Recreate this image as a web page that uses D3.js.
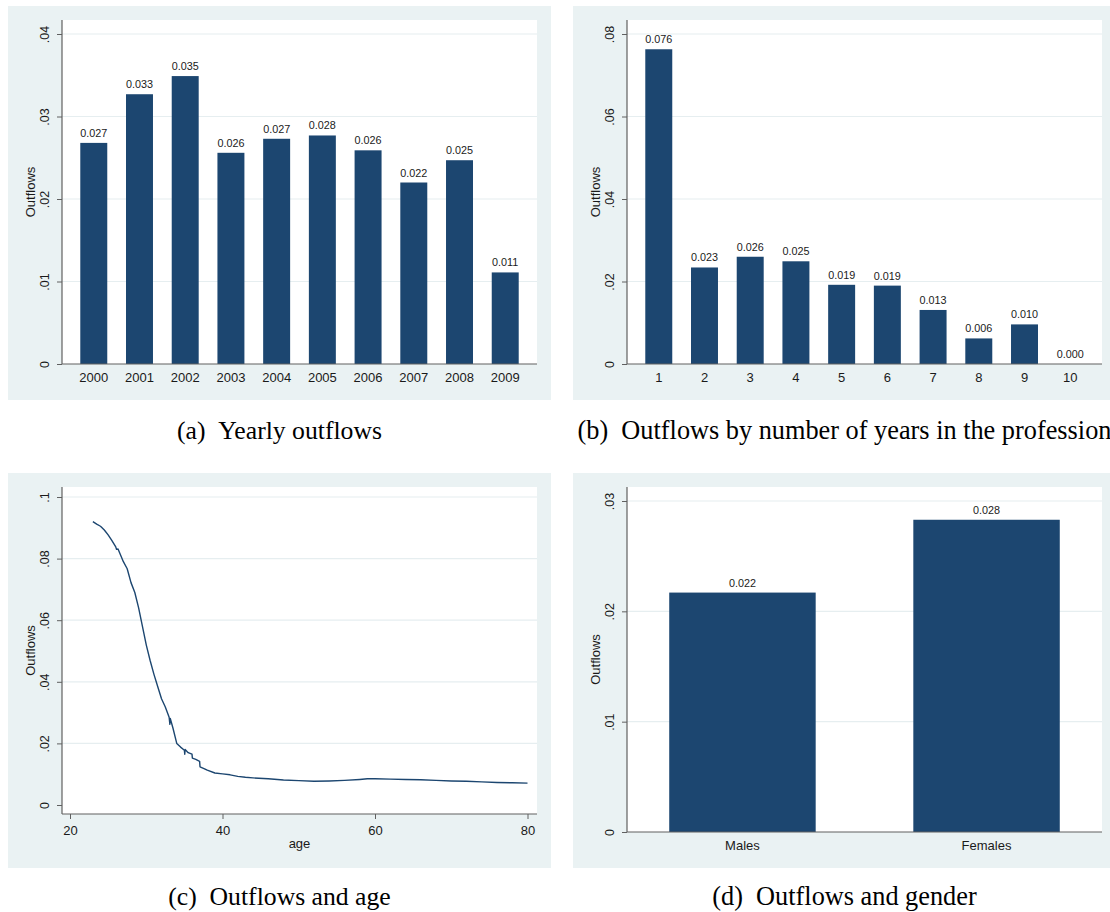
<!DOCTYPE html>
<html>
<head>
<meta charset="utf-8">
<script src="https://cdn.jsdelivr.net/npm/d3@7"></script>
<style>
  html, body { margin: 0; padding: 0; background: #ffffff; }
  svg { display: block; }
  text { font-family: "Liberation Sans", Arial, sans-serif; fill: #1a1a1a; }
  .caption { font-family: "Liberation Serif", "Times New Roman", serif; fill: #000; }
</style>
</head>
<body>
<svg id="fig" width="1110" height="912"></svg>
<script>
// ---- data ----
const yearLabels = ["2000","2001","2002","2003","2004","2005","2006","2007","2008","2009"];
const yearOutflows = [0.0268, 0.0327, 0.0349, 0.0256, 0.0273, 0.0277, 0.0259, 0.0220, 0.0247, 0.0111];

const tenureLabels = ["1","2","3","4","5","6","7","8","9","10"];
const tenureOutflows = [0.0763, 0.0234, 0.0260, 0.0249, 0.0192, 0.0190, 0.0131, 0.0062, 0.0096, 0.0000];

const ageValues = [23, 23.5, 24, 24.5, 25, 25.5, 26, 26.1, 26.3, 27, 27.5, 28, 28.5, 29, 29.5, 30, 30.5,
  31, 31.5, 32, 32.5, 33, 33.1, 33.15, 33.5, 34, 34.5, 35, 35.05, 35.1, 35.5, 36, 36.05, 36.5, 37, 37.05,
  37.5, 38, 39, 40, 41, 42, 43, 44, 46, 48, 50, 52, 54, 56, 58, 59, 60, 62, 64, 66, 68, 70, 72, 74, 76, 78, 80];
const ageOutflows = [0.0920, 0.0912, 0.0905, 0.0893, 0.0877, 0.0858, 0.0838, 0.0830, 0.0831, 0.0790, 0.0767,
  0.0722, 0.0690, 0.0640, 0.0580, 0.0520, 0.0470, 0.0425, 0.0385, 0.0345, 0.0318, 0.0285, 0.0262, 0.0281,
  0.0250, 0.0200, 0.0188, 0.0178, 0.0165, 0.0180, 0.0170, 0.0165, 0.0152, 0.0148, 0.0142, 0.0124, 0.0119,
  0.0113, 0.0104, 0.0101, 0.0098, 0.0093, 0.0090, 0.0088, 0.0085, 0.0081, 0.0079, 0.0077, 0.0078, 0.0080,
  0.0083, 0.0085, 0.0085, 0.0084, 0.0083, 0.0082, 0.0080, 0.0078, 0.0077, 0.0075, 0.0073, 0.0072, 0.0071];
const ageTicks = [20, 40, 60, 80];

const genderLabels = ["Males", "Females"];
const genderOutflows = [0.0217, 0.0283];

const yTicksA = [0, 0.01, 0.02, 0.03, 0.04];
const yTicksB = [0, 0.02, 0.04, 0.06, 0.08];
const yTicksC = [0, 0.02, 0.04, 0.06, 0.08, 0.1];
const yTicksD = [0, 0.01, 0.02, 0.03];

const captions = ["(a)\u2002Yearly outflows", "(b)\u2002Outflows by number of years in the profession",
                  "(c)\u2002Outflows and age", "(d)\u2002Outflows and gender"];

// ---- style ----
const BG = "#eaf2f3", GRID = "#e6eef0", AXIS = "#606060", BAR = "#1c4670";
const svg = d3.select("#fig");
const stataFmt = d => d === 0 ? "0" : d3.format(".2~f")(d).replace(/^0/, "");

function panel(box, plot) {
  svg.append("rect").attr("x", box.x0).attr("y", box.y0)
    .attr("width", box.x1 - box.x0).attr("height", box.y1 - box.y0).attr("fill", BG);
  svg.append("rect").attr("x", plot.x0).attr("y", plot.y0)
    .attr("width", plot.x1 - plot.x0).attr("height", plot.y1 - plot.y0).attr("fill", "#fff");
}

function yAxis(plot, y, ticks) {
  // horizontal grid lines
  svg.append("g").selectAll("line").data(ticks.filter(t => t !== 0)).join("line")
    .attr("x1", plot.x0).attr("x2", plot.x1)
    .attr("y1", d => y(d)).attr("y2", d => y(d))
    .attr("stroke", GRID).attr("stroke-width", 1.2);
  const g = svg.append("g").attr("transform", `translate(${plot.x0},0)`)
    .call(d3.axisLeft(y).tickValues(ticks).tickFormat(stataFmt).tickSize(5).tickSizeOuter(0));
  g.select(".domain").remove();
  g.selectAll(".tick line").attr("stroke", AXIS);
  g.selectAll(".tick text")
    .attr("transform", "rotate(-90)").attr("x", 0).attr("y", -13).attr("dy", 0)
    .attr("text-anchor", "middle").style("font-size", "12.5px").attr("fill", "#1a1a1a");
  // axis line spanning the whole plot region
  svg.append("line").attr("x1", plot.x0).attr("x2", plot.x0)
    .attr("y1", plot.y0).attr("y2", plot.y1).attr("stroke", AXIS).attr("stroke-width", 1.2);
  svg.append("text").attr("transform", `translate(${plot.x0 - 27.5},${(plot.y0 + plot.y1) / 2}) rotate(-90)`)
    .attr("text-anchor", "middle").style("font-size", "13px").text("Outflows");
}

function xBaseline(plot, yPos) {
  svg.append("line").attr("x1", plot.x0).attr("x2", plot.x1)
    .attr("y1", yPos).attr("y2", yPos).attr("stroke", AXIS).attr("stroke-width", 1.2);
}

function barPanel(box, plot, labels, values, yMax, ticks, padIn, padOut, labelSize) {
  panel(box, plot);
  const y = d3.scaleLinear().domain([0, yMax]).range([plot.y1, plot.y1 - (plot.y1 - plot.y0 - 14)]);
  const x = d3.scaleBand().domain(labels).range([plot.x0, plot.x1]).paddingInner(padIn).paddingOuter(padOut);
  yAxis(plot, y, ticks);
  const data = labels.map((l, i) => ({ l, v: values[i] }));
  svg.append("g").selectAll("rect").data(data).join("rect")
    .attr("x", d => x(d.l)).attr("width", x.bandwidth())
    .attr("y", d => y(d.v)).attr("height", d => y(0) - y(d.v))
    .attr("fill", BAR);
  svg.append("g").selectAll("text").data(data).join("text")
    .attr("x", d => x(d.l) + x.bandwidth() / 2).attr("y", d => y(d.v) - 6)
    .attr("text-anchor", "middle").style("font-size", "10.8px")
    .text(d => d3.format(".3f")(d.v));
  xBaseline(plot, y(0));
  const gx = svg.append("g").attr("transform", `translate(0,${y(0)})`)
    .call(d3.axisBottom(x).tickSize(0));
  gx.select(".domain").remove();
  gx.selectAll(".tick text").attr("y", 18).attr("dy", 0).style("font-size", labelSize).attr("fill", "#1a1a1a");
}

// (a) yearly outflows
barPanel({ x0: 8, x1: 551, y0: 6, y1: 400 }, { x0: 62, x1: 537, y0: 20, y1: 364 },
  yearLabels, yearOutflows, 0.04, yTicksA, 0.41, 0.4, "13px");

// (b) outflows by years in the profession
barPanel({ x0: 573, x1: 1116, y0: 6, y1: 400 }, { x0: 627, x1: 1102, y0: 20, y1: 364 },
  tenureLabels, tenureOutflows, 0.08, yTicksB, 0.41, 0.4, "13px");

// (c) outflows and age
{
  const box = { x0: 8, x1: 551, y0: 473, y1: 868 }, plot = { x0: 62, x1: 537, y0: 487, y1: 814 };
  panel(box, plot);
  const y = d3.scaleLinear().domain([0, 0.1]).range([805, 497]);
  const x = d3.scaleLinear().domain([20, 80]).range([70, 527.5]);
  yAxis(plot, y, yTicksC);
  svg.append("line").attr("x1", plot.x0).attr("x2", plot.x1)
    .attr("y1", plot.y1).attr("y2", plot.y1).attr("stroke", AXIS).attr("stroke-width", 1.2);
  const gx = svg.append("g").attr("transform", `translate(0,${plot.y1})`)
    .call(d3.axisBottom(x).tickValues(ageTicks).tickFormat(d3.format("d")).tickSize(5).tickSizeOuter(0));
  gx.select(".domain").remove();
  gx.selectAll(".tick line").attr("stroke", AXIS);
  gx.selectAll(".tick text").attr("y", 21).attr("dy", 0).style("font-size", "13px").attr("fill", "#1a1a1a");
  svg.append("text").attr("x", (plot.x0 + plot.x1) / 2).attr("y", 848)
    .attr("text-anchor", "middle").style("font-size", "13px").text("age");
  const pts = ageValues.map((a, i) => [a, ageOutflows[i]]);
  svg.append("path").datum(pts)
    .attr("d", d3.line().x(d => x(d[0])).y(d => y(d[1])))
    .attr("fill", "none").attr("stroke", BAR).attr("stroke-width", 1.4).attr("stroke-linejoin", "round");
}

// (d) outflows and gender
barPanel({ x0: 573, x1: 1116, y0: 473, y1: 868 }, { x0: 627, x1: 1102, y0: 487, y1: 832 },
  genderLabels, genderOutflows, 0.03, yTicksD, 0.4, 0.173, "13px");

// captions
const capPos = [[279.5, 439, 25.7], [844.5, 439, 26.3], [279.5, 905, 25.7], [844.5, 905, 26.3]];
captions.forEach((c, i) => {
  svg.append("text").attr("class", "caption").attr("x", capPos[i][0]).attr("y", capPos[i][1])
    .attr("text-anchor", "middle").style("font-size", capPos[i][2] + "px").text(c);
});
</script>
</body>
</html>
